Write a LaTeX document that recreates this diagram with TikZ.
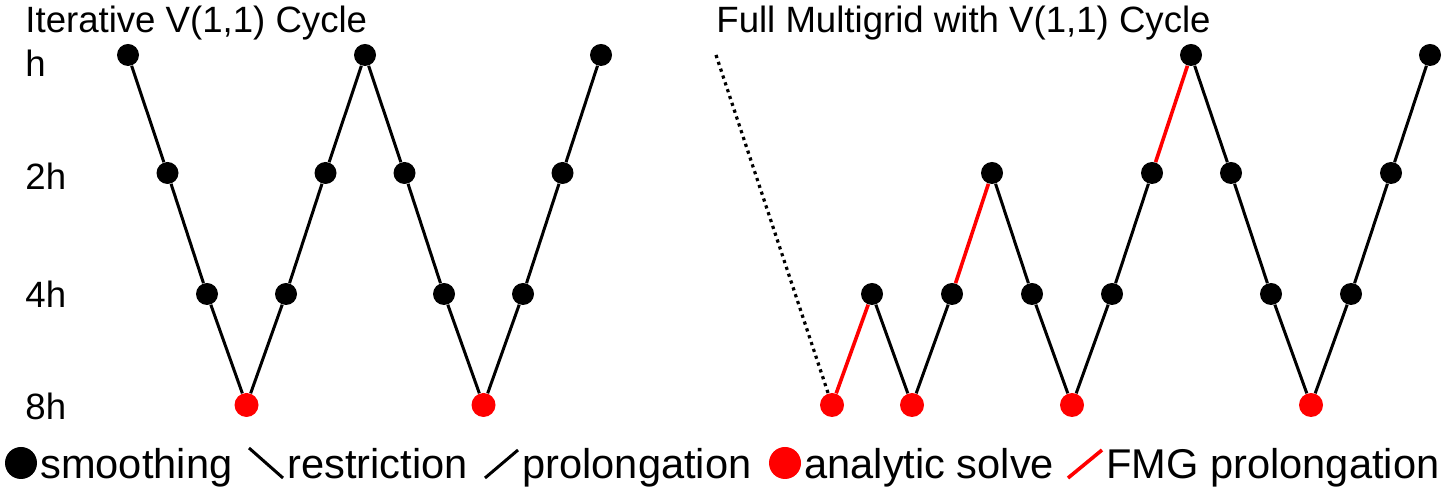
\documentclass[tikz,border=0pt]{standalone}
\usepackage{fontspec}
\setmainfont{Liberation Sans}
\usetikzlibrary{positioning}

\tikzset{
  smooth/.style={circle,fill=black,inner sep=0pt,minimum size=11pt},
  solve/.style={circle,fill=red,inner sep=0pt,minimum size=12pt},
  grid/.style={line width=1.5pt},
  fmg/.style={line width=1.8pt,red},
  lbl/.style={anchor=base west,inner sep=0pt,font=\fontsize{18.3}{20}\selectfont},
  legtext/.style={anchor=base west,inner sep=0pt,font=\fontsize{20.8}{23}\selectfont}
}

\begin{document}
\begin{tikzpicture}[x=0.5pt,y=-0.5pt]
\useasboundingbox (0,0) rectangle (1450,490);
% titles and level labels
\node[lbl] (t1) at (25,33) {Iterative V(1,1) Cycle};
\node[lbl] (t2) at (716,33) {Full Multigrid with V(1,1) Cycle};
\node[lbl] (lh) at (25,77) {h};
\node[lbl] (l2h) at (25,190) {2h};
\node[lbl] (l4h) at (25,308) {4h};
\node[lbl] (l8h) at (25,420) {8h};
% iterative V-cycles: h=55, 2h=173, 4h=294, 8h=405
\node[smooth] (a1) at (128,55) {};
\node[smooth] (a2) at (167.5,173) {};
\node[smooth] (a3) at (207,294) {};
\node[solve] (a4) at (246.5,405) {};
\node[smooth] (a5) at (286,294) {};
\node[smooth] (a6) at (325.5,173) {};
\node[smooth] (a7) at (365,55) {};
\node[smooth] (a8) at (404.5,173) {};
\node[smooth] (a9) at (444,294) {};
\node[solve] (a10) at (483.5,405) {};
\node[smooth] (a11) at (523,294) {};
\node[smooth] (a12) at (562.5,173) {};
\node[smooth] (a13) at (601,55) {};
\draw[grid] (a1) -- (a2) -- (a3) -- (a4) -- (a5) -- (a6) -- (a7) -- (a8)
  -- (a9) -- (a10) -- (a11) -- (a12) -- (a13);
% full multigrid
\coordinate (start) at (716,55);
\node[solve] (b1) at (832,405) {};
\node[smooth] (b2) at (872,294) {};
\node[solve] (b3) at (912,405) {};
\node[smooth] (b4) at (952,294) {};
\node[smooth] (b5) at (992,173) {};
\node[smooth] (b6) at (1032,294) {};
\node[solve] (b7) at (1072,405) {};
\node[smooth] (b8) at (1112,294) {};
\node[smooth] (b9) at (1152,173) {};
\node[smooth] (b10) at (1191,55) {};
\node[smooth] (b11) at (1231,173) {};
\node[smooth] (b12) at (1271,294) {};
\node[solve] (b13) at (1311,405) {};
\node[smooth] (b14) at (1351,294) {};
\node[smooth] (b15) at (1391,173) {};
\node[smooth] (b16) at (1430,55) {};
\draw[line width=1.6pt,dotted] (start) -- (b1);
\draw[fmg] (b1) -- (b2);
\draw[grid] (b2) -- (b3) -- (b4);
\draw[fmg] (b4) -- (b5);
\draw[grid] (b5) -- (b6) -- (b7) -- (b8) -- (b9);
\draw[fmg] (b9) -- (b10);
\draw[grid] (b10) -- (b11) -- (b12) -- (b13) -- (b14) -- (b15) -- (b16);
% legend
\node[circle,fill=black,inner sep=0pt,minimum size=16pt] (kdot) at (21,463) {};
\node[legtext] (ksmooth) at (40,479) {smoothing};
\coordinate (r1) at (249,448);
\coordinate (r2) at (283,478);
\draw[grid] (r1) -- (r2);
\node[legtext] (krestr) at (287,479) {restriction};
\coordinate (p1) at (485,478);
\coordinate (p2) at (518,450);
\draw[grid] (p1) -- (p2);
\node[legtext] (kprol) at (522,479) {prolongation};
\node[circle,fill=red,inner sep=0pt,minimum size=16pt] (kred) at (785,463) {};
\node[legtext] (ksolve) at (804,479) {analytic solve};
\coordinate (f1) at (1068,478);
\coordinate (f2) at (1102,450);
\draw[fmg] (f1) -- (f2);
\node[legtext] (kfmg) at (1106,479) {FMG prolongation};
\end{tikzpicture}
\end{document}
